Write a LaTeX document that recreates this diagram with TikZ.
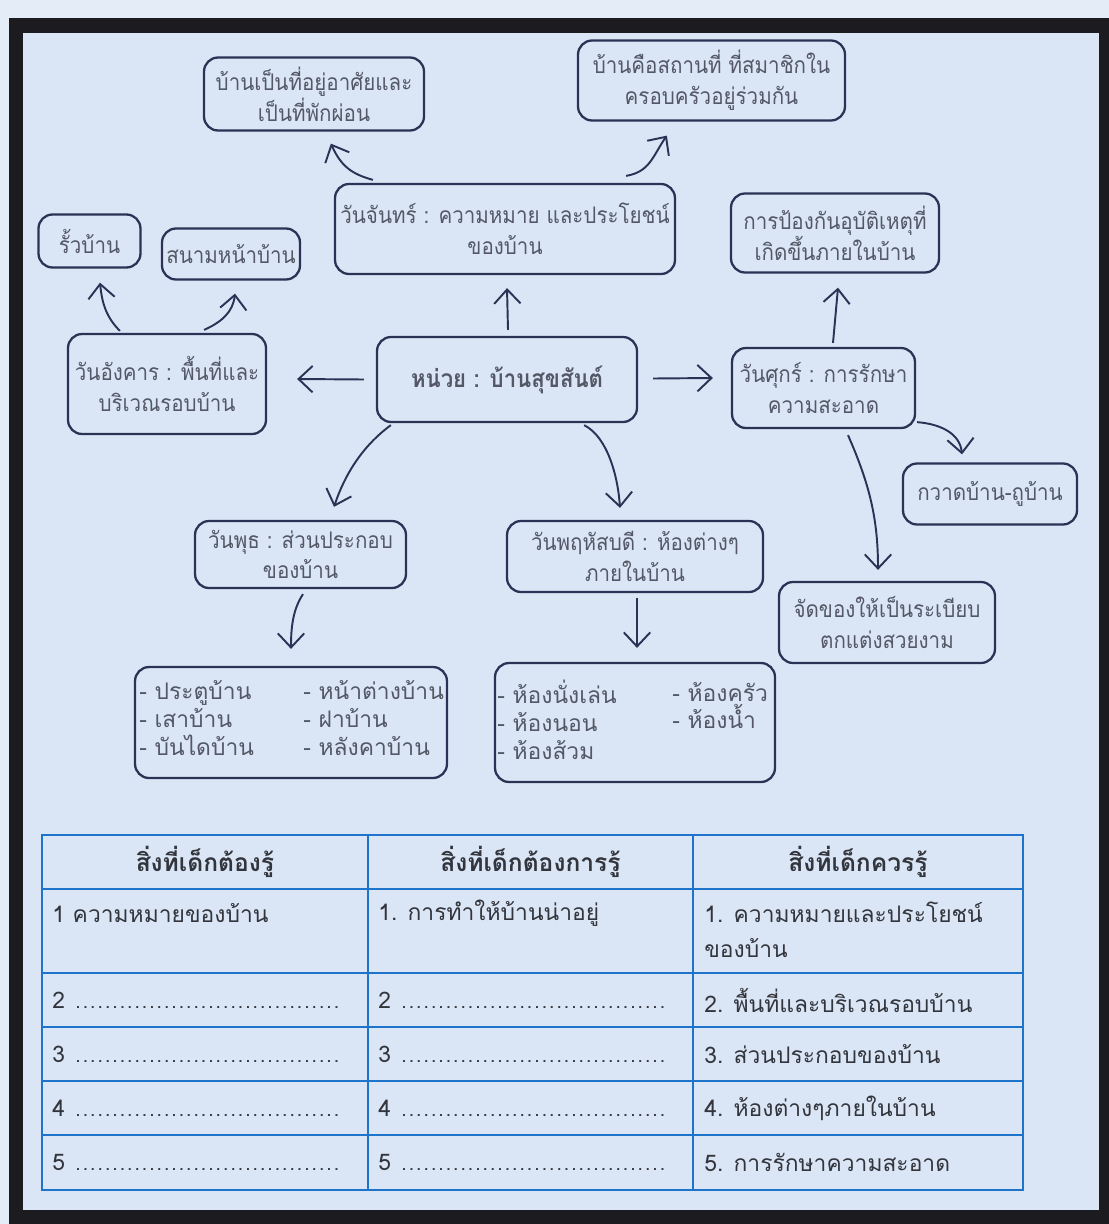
\documentclass[tikz,border=0pt]{standalone}
\usepackage{fontspec}
\newfontfamily\thaif[Script=Thai]{Loma}
\newfontfamily\thain[Script=Thai,FakeStretch=0.9]{Loma}
\usetikzlibrary{arrows.meta,calc}
\definecolor{outerbg}{HTML}{E3ECF7}
\definecolor{innerbg}{HTML}{DAE6F5}
\definecolor{framec}{HTML}{1C1C20}
\definecolor{boxline}{HTML}{2B3256}
\definecolor{boxtext}{HTML}{545866}
\definecolor{tblue}{HTML}{1E73CB}
\definecolor{ttext}{HTML}{33353D}
\newcommand{\dotrow}[1]{\makebox[5.86cm][l]{#1\ \leaders\hbox to 4.2pt{\hss\fontsize{11}{11}\selectfont.\hss}\hfill}}
\tikzset{
 box/.style={draw=boxline, line width=1.3pt, rounded corners=8pt, text=boxtext,
   font=\thain\fontsize{13}{17.5}\selectfont, align=center, inner sep=0pt},
 arr/.style={draw=boxline, line width=1.1pt, -{Straight Barb[length=8pt,width=15pt]}},
 ltext/.style={text=boxtext, font=\thaif\fontsize{13}{15.9}\selectfont, align=left, anchor=west, inner sep=0pt},
 tline/.style={draw=tblue, line width=1.5pt},
 thead/.style={text=ttext, font=\thaif\bfseries\fontsize{14}{16}\selectfont, inner sep=0pt},
 tcell/.style={text=ttext, font=\thaif\fontsize{13}{20}\selectfont, anchor=west, align=left, inner sep=0pt},
}
\begin{document}
\begin{tikzpicture}[x=0.02cm,y=-0.02cm]
\useasboundingbox (0,0) rectangle (1109,1224);
\fill[outerbg] (0,0) rectangle (1109,1224);
\fill[framec] (9,18) rectangle (1109,1224);
\fill[innerbg] (23,33) rectangle (1099,1210);

% boxes
\node[box, minimum width=4.4cm, minimum height=1.46cm] (b1) at (314,94) {บ้านเป็นที่อยู่อาศัยและ\\เป็นที่พักผ่อน};
\node[box, minimum width=5.34cm, minimum height=1.6cm] (b2) at (711.5,80.5) {บ้านคือสถานที่ ที่สมาชิกใน\\ครอบครัวอยู่ร่วมกัน};
\node[box, minimum width=6.8cm, minimum height=1.8cm] (b3) at (505,229) {วันจันทร์ : ความหมาย และประโยชน์\\ของบ้าน};
\node[box, minimum width=2.04cm, minimum height=1.06cm] (fence) at (89.5,241) {รั้วบ้าน};
\node[box, minimum width=2.76cm, minimum height=1.02cm] (yard) at (231,254) {สนามหน้าบ้าน};
\node[box, minimum width=4.16cm, minimum height=1.58cm] (acc) at (835,233) {การป้องกันอุบัติเหตุที่\\เกิดขึ้นภายในบ้าน};
\node[box, minimum width=3.96cm, minimum height=2.0cm] (tue) at (167,384) {วันอังคาร : พื้นที่และ\\บริเวณรอบบ้าน};
\node[box, minimum width=5.2cm, minimum height=1.7cm, font=\thain\bfseries\fontsize{14}{17}\selectfont] (unit) at (507,379.5) {หน่วย : บ้านสุขสันต์};
\node[box, minimum width=3.66cm, minimum height=1.6cm] (fri) at (823.5,388) {วันศุกร์ : การรักษา\\ความสะอาด};
\node[box, minimum width=3.48cm, minimum height=1.22cm] (sweep) at (990,494) {กวาดบ้าน-ถูบ้าน};
\node[box, minimum width=4.22cm, minimum height=1.34cm] (wed) at (300.5,554.5) {วันพุธ : ส่วนประกอบ\\ของบ้าน};
\node[box, minimum width=5.12cm, minimum height=1.42cm] (thu) at (635,556.5) {วันพฤหัสบดี : ห้องต่างๆ\\ภายในบ้าน};
\node[box, minimum width=4.32cm, minimum height=1.62cm] (tidy) at (887,622.5) {จัดของให้เป็นระเบียบ\\ตกแต่งสวยงาม};
\node[box, minimum width=6.24cm, minimum height=2.22cm] (l1) at (291,722.5) {};
\node[box, minimum width=5.6cm, minimum height=2.38cm] (l2) at (635,722.5) {};
\node[ltext] (l1a) at (139,718) {- ประตูบ้าน\\- เสาบ้าน\\- บันไดบ้าน};
\node[ltext] (l1b) at (303,718) {- หน้าต่างบ้าน\\- ฝาบ้าน\\- หลังคาบ้าน};
\node[ltext] (l2a) at (497,720) {- ห้องนั่งเล่น\\- ห้องนอน\\- ห้องส้วม};
\node[ltext] (l2b) at (672,705.5) {- ห้องครัว\\- ห้องน้ำ};

% connectors
\draw[arr] ($(b3.north west)+(39,-3)$) .. controls +(-22,-6) and +(10,22) .. ($(b1.south west)+(128,12)$);
\draw[arr] ($(b3.north east)+(-50,-7)$) .. controls +(24,-4) and +(-14,20) .. ($(b2.south west)+(90,14)$);
\draw[arr] ($(unit.north)+(1,-6)$) -- ($(b3.south)+(2,13)$);
\draw[arr] ($(unit.west)+(-12,0)$) -- ($(tue.east)+(30,-5)$);
\draw[arr] ($(unit.east)+(15,-1)$) -- ($(fri.west)+(-18,-10)$);
\draw[arr] ($(unit.south west)+(15,2)$) .. controls +(-30,22) and +(10,-30) .. ($(wed.north)+(33.5,-13)$);
\draw[arr] ($(unit.south east)+(-54,2)$) .. controls +(24,12) and +(-2,-30) .. ($(thu.north)+(-15,-12)$);
\draw[arr] ($(tue.north west)+(53,-2)$) .. controls +(-14,-14) and +(2,20) .. ($(fence.south)+(10.5,14)$);
\draw[arr] ($(tue.north east)+(-63,-3)$) .. controls +(18,-8) and +(-2,18) .. ($(yard.south)+(4,13)$);
\draw[arr] ($(fri.north)+(9.5,-4)$) -- ($(acc.south)+(3,14)$);
\draw[arr] ($(fri.south east)+(1,-7)$) .. controls +(25,2) and +(-2,-20) .. ($(sweep.north)+(-28,-8)$);
\draw[arr] ($(fri.south)+(24.5,6)$) .. controls +(22,50) and +(0,-50) .. ($(tidy.north)+(-9,-11)$);
\draw[arr] ($(wed.south)+(2.5,5)$) .. controls +(-10,15) and +(0,-22) .. ($(l1.north)+(0,-17)$);
\draw[arr] ($(thu.south)+(2,5)$) -- ($(l2.north)+(2,-14)$);

% table
\draw[tline] (42,835) rectangle (1023,1190);
\foreach \yy in {889,973,1027,1081,1135} \draw[tline] (42,\yy) -- (1023,\yy);
\draw[tline] (368,835) -- (368,1190);
\draw[tline] (693,835) -- (693,1190);
\node[thead] (h1) at (205,862) {สิ่งที่เด็กต้องรู้};
\node[thead] (h2) at (530.5,862) {สิ่งที่เด็กต้องการรู้};
\node[thead] (h3) at (858,862) {สิ่งที่เด็กควรรู้};
\node[tcell] (c11) at (52,913) {1 ความหมายของบ้าน};
\node[tcell] (c12) at (378,913) {1. การทำให้บ้านน่าอยู่};
\node[tcell] (c13) at (704,930) {1. ความหมายและประโยชน์\\ของบ้าน};
\foreach \n/\yy in {2/1000,3/1054,4/1108,5/1162}{
  \node[tcell] (ca\n) at (52,\yy) {\dotrow{\n}};
  \node[tcell] (cb\n) at (378,\yy) {\dotrow{\n}};
}
\node[tcell] (c23) at (704,1000) {2. พื้นที่และบริเวณรอบบ้าน};
\node[tcell] (c33) at (704,1054) {3. ส่วนประกอบของบ้าน};
\node[tcell] (c43) at (704,1108) {4. ห้องต่างๆภายในบ้าน};
\node[tcell] (c53) at (704,1162) {5. การรักษาความสะอาด};
\end{tikzpicture}
\end{document}
